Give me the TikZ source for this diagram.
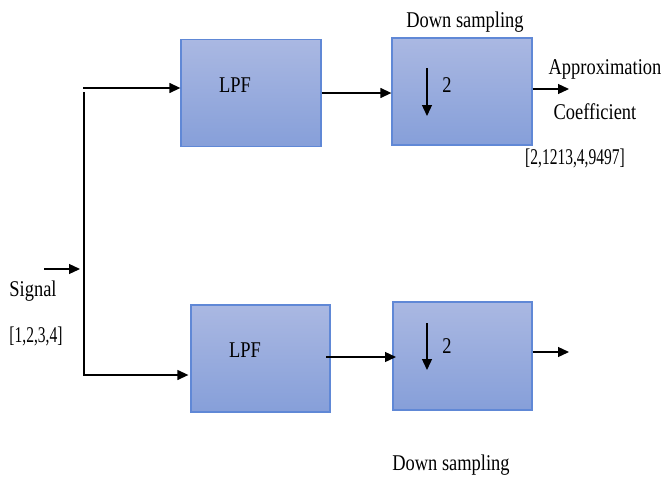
\documentclass[tikz,border=0pt]{standalone}
\usepackage{fontspec}
\setmainfont{Liberation Serif}[FakeStretch=0.82]
\newfontfamily\narrowfont{Liberation Serif}[FakeStretch=0.69]
\usetikzlibrary{arrows.meta}
\definecolor{boxtop}{RGB}{170,184,226}
\definecolor{boxbot}{RGB}{134,159,217}
\definecolor{boxedge}{RGB}{96,136,214}
\tikzset{
  blockbox/.style={draw=boxedge, line width=1.3pt, top color=boxtop, bottom color=boxbot,
    minimum width=140pt, minimum height=107pt, inner sep=0pt},
  lbl/.style={font=\fontsize{22.5}{26}\selectfont, inner sep=0pt},
  numlbl/.style={font=\fontsize{22.5}{26}\selectfont\narrowfont, inner sep=0pt},
  wire/.style={line width=1.3pt, black},
  flow/.style={wire, -{Triangle[length=11pt,width=10pt]}},
}
\begin{document}
\begin{tikzpicture}[x=1pt,y=-1pt]
\useasboundingbox (0,0) rectangle (665,477);

% filter and down-sampling blocks
\node[blockbox] (lpf1) at (251,93) {};
\node[blockbox] (ds1)  at (462,91.5) {};
\node[blockbox, minimum width=139pt] (lpf2) at (260.5,358.5) {};
\node[blockbox, minimum width=139pt, minimum height=108pt] (ds2) at (462.5,356) {};

% block texts
\node[lbl] (lpf1t) at (235,85) {LPF};
\node[lbl] (lpf2t) at (245,350) {LPF};
\node[lbl] (ds1n) at (447,85) {2};
\node[lbl] (ds2n) at (447,346) {2};
\draw[flow] (427,68) -- (427,116);
\draw[flow] (427,323) -- (427,370);

% labels
\node[lbl] (ds1l) at (465,22) {Down sampling};
\node[lbl] (ds2l) at (451,465) {Down sampling};
\node[lbl] (appr) at (605,69) {Approximation};
\node[lbl] (coef) at (595,112) {Coefficient};
\node[numlbl] (coefv) at (575,158) {[2,1213,4,9497]};
\node[lbl] (sigl) at (33,291) {Signal};
\node[numlbl] (sigv) at (36,336) {[1,2,3,4]};

% signal input and split
\coordinate (sig) at (44,269);
\coordinate (jtop) at (83,88);
\coordinate (jmid) at (84,92);
\coordinate (jbot) at (83,375);
\draw[flow] (sig) -- (80,269);
\draw[wire] (jmid) -- (84,375);
\draw[flow] (jtop) -- (jtop -| lpf1.west);
\draw[flow, shorten >=2pt] (jbot) -- (jbot -| lpf2.west);

% filter to down-sampler
\draw[flow] (lpf1.east) -- (lpf1.east -| ds1.west);
\coordinate (m2) at (326,357);
\draw[flow] (m2) -- (396,357);

% outputs
\coordinate (o1) at (569,89);
\coordinate (o2) at (569,352);
\draw[flow] (ds1.east |- o1) -- (o1);
\draw[flow] (ds2.east |- o2) -- (o2);
\end{tikzpicture}
\end{document}
